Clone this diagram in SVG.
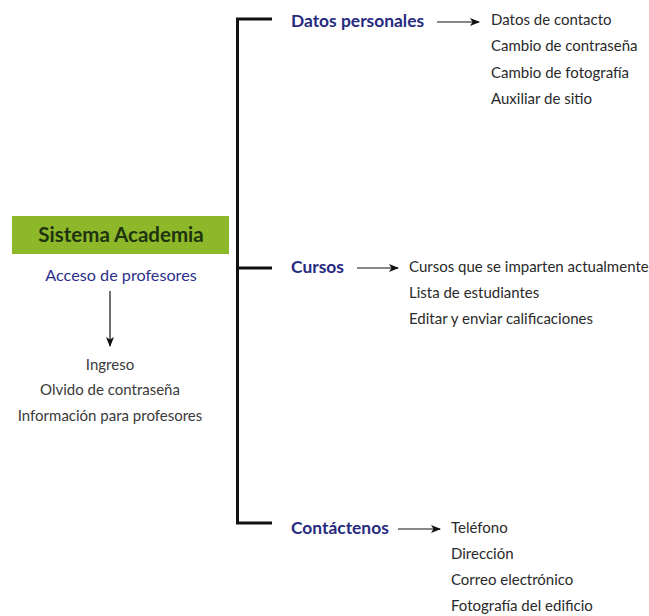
<svg xmlns="http://www.w3.org/2000/svg" width="649" height="616" viewBox="0 0 649 616">
<defs>
<marker id="ah" viewBox="0 0 10 10" refX="9" refY="5" markerWidth="11" markerHeight="10" markerUnits="userSpaceOnUse" orient="auto"><path d="M0,1 L10,5 L0,9 L2.5,5 z" fill="#111"/></marker>
<style>
text{font-family:Lato,"Open Sans","Liberation Sans",sans-serif}
.h{font-weight:bold;fill:#262a80;font-size:17.4px}
.i{fill:#2a2a2a;font-size:15px}
.s{fill:#3a3a3a;font-size:15px}
.br{stroke:#111;stroke-width:3;fill:none}
.ar{stroke:#111;stroke-width:1.2;fill:none;marker-end:url(#ah)}
</style>
</defs>
<rect width="649" height="616" fill="#fff"/>
<g id="connectors">
<path class="br" d="M272,19 H237.5 V523 H272"/>
<path class="br" d="M237.5,268 H272"/>
<line class="ar" x1="110" y1="291" x2="110" y2="346"/>
<line class="ar" x1="437" y1="22" x2="479" y2="22"/>
<line class="ar" x1="357" y1="268" x2="398" y2="268"/>
<line class="ar" x1="398" y1="529" x2="440" y2="529"/>
</g>
<g id="sistema">
<rect x="12" y="216" width="217" height="38" fill="#8cb82a"/>
<text x="121" y="242" text-anchor="middle" font-size="20.5" font-weight="bold" fill="#1f3311">Sistema Academia</text>
</g>
<g id="acceso">
<text x="121" y="281" text-anchor="middle" font-size="16.2" fill="#2a2f8c">Acceso de profesores</text>
</g>
<g id="acceso-items">
<text class="s" x="110" y="370" text-anchor="middle">Ingreso</text>
<text class="s" x="110" y="395" text-anchor="middle">Olvido de contraseña</text>
<text class="s" x="110" y="421" text-anchor="middle">Información para profesores</text>
</g>
<g id="datos">
<text class="h" x="291" y="27">Datos personales</text>
</g>
<g id="datos-items">
<text class="i" x="491" y="25">Datos de contacto</text>
<text class="i" x="491" y="51">Cambio de contraseña</text>
<text class="i" x="491" y="78">Cambio de fotografía</text>
<text class="i" x="491" y="104">Auxiliar de sitio</text>
</g>
<g id="cursos">
<text class="h" x="291" y="273">Cursos</text>
</g>
<g id="cursos-items">
<text class="i" x="409" y="272">Cursos que se imparten actualmente</text>
<text class="i" x="409" y="298">Lista de estudiantes</text>
<text class="i" x="409" y="324">Editar y enviar calificaciones</text>
</g>
<g id="contactenos">
<text class="h" x="291" y="534">Contáctenos</text>
</g>
<g id="contactenos-items">
<text class="i" x="451" y="533">Teléfono</text>
<text class="i" x="451" y="559">Dirección</text>
<text class="i" x="451" y="585">Correo electrónico</text>
<text class="i" x="451" y="611">Fotografía del edificio</text>
</g>
</svg>
